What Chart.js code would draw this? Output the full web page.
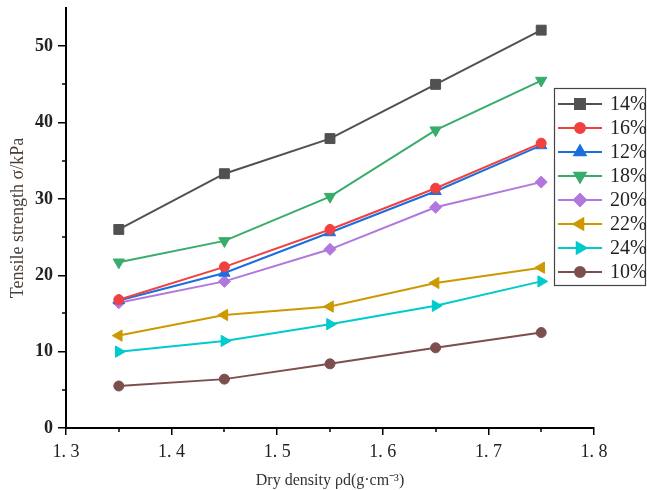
<!DOCTYPE html>
<html>
<head>
<meta charset="utf-8">
<script src="https://cdn.jsdelivr.net/npm/chart.js@4.4.1/dist/chart.umd.min.js"></script>
<style>
  html, body { margin: 0; padding: 0; background: #fff; }
  #wrap { width: 647px; height: 490px; }
</style>
</head>
<body>
<div id="wrap"><canvas id="chart"></canvas></div>
<script>
// dry density values (x)
const densities = [1.35, 1.45, 1.55, 1.65, 1.75];
const xTicks = [1.3, 1.4, 1.5, 1.6, 1.7, 1.8];
const yTicks = [0, 10, 20, 30, 40, 50];

// tensile strength per water content
const s14 = [26.0, 33.3, 37.9, 45.0, 52.1];
const s16 = [16.8, 21.1, 26.0, 31.4, 37.3];
const s12 = [16.7, 20.3, 25.6, 31.0, 37.0];
const s18 = [21.7, 24.5, 30.3, 39.0, 45.5];
const s20 = [16.4, 19.2, 23.4, 28.9, 32.2];
const s22 = [12.1, 14.8, 15.9, 19.0, 21.0];
const s24 = [10.0, 11.4, 13.6, 16.0, 19.2];
const s10 = [5.5, 6.4, 8.4, 10.5, 12.5];

const series = [
  { label: "14%", values: s14, color: "#515151", style: "rect", rot: 0 },
  { label: "16%", values: s16, color: "#f14040", style: "circle", rot: 0 },
  { label: "12%", values: s12, color: "#1a6fdf", style: "triangle", rot: 0 },
  { label: "18%", values: s18, color: "#37ad6b", style: "triangle", rot: 180 },
  { label: "20%", values: s20, color: "#b177de", style: "rectRot", rot: 0 },
  { label: "22%", values: s22, color: "#cc9900", style: "triangle", rot: -90 },
  { label: "24%", values: s24, color: "#00cbcc", style: "triangle", rot: 90 },
  { label: "10%", values: s10, color: "#7d4e4e", style: "circle", rot: 0 }
];

const serif = "'Liberation Serif', 'Times New Roman', serif";

function markerSize(style) {
  if (style === "rect") return 7;
  if (style === "circle") return 5;
  if (style === "rectRot") return 6;
  return 6.5;
}

const datasets = series.map((s) => ({
  label: s.label,
  data: s.values.map((v, i) => ({ x: densities[i], y: v })),
  borderColor: s.color,
  backgroundColor: s.color,
  borderWidth: 2,
  pointStyle: s.style,
  rotation: s.rot,
  pointRadius: markerSize(s.style),
  pointBorderWidth: 1,
  tension: 0
}));

// short outward minor ticks between the labelled ones
const minorTicks = {
  id: "minorTicks",
  afterDraw(chart) {
    const ctx = chart.ctx;
    const xs = chart.scales.x, ys = chart.scales.y;
    ctx.save();
    ctx.strokeStyle = "#000";
    ctx.lineWidth = 1.5;
    for (let v = 5; v < 55; v += 10) {
      const p = Math.round(ys.getPixelForValue(v));
      ctx.beginPath();
      ctx.moveTo(ys.right - 4, p);
      ctx.lineTo(ys.right, p);
      ctx.stroke();
    }
    densities.forEach((v) => {
      const p = Math.round(xs.getPixelForValue(v));
      ctx.beginPath();
      ctx.moveTo(p, xs.top);
      ctx.lineTo(p, xs.top + 4);
      ctx.stroke();
    });
    ctx.restore();
  }
};

// boxed legend drawn over the right side of the plot
const boxLegend = {
  id: "boxLegend",
  afterDraw(chart) {
    const ctx = chart.ctx;
    const x0 = 554, y0 = 88, w = 91, h = 197, row = 24;
    ctx.save();
    ctx.fillStyle = "#fff";
    ctx.fillRect(x0, y0, w, h);
    ctx.strokeStyle = "#444";
    ctx.lineWidth = 1.2;
    ctx.strokeRect(x0 + 0.5, y0 + 0.5, w, h);
    chart.data.datasets.forEach((ds, i) => {
      const y = y0 + 16 + i * row;
      ctx.strokeStyle = ds.borderColor;
      ctx.fillStyle = ds.backgroundColor;
      ctx.lineWidth = 2;
      ctx.beginPath();
      ctx.moveTo(x0 + 4, y);
      ctx.lineTo(x0 + 48, y);
      ctx.stroke();
      Chart.helpers.drawPoint(ctx, {
        pointStyle: ds.pointStyle,
        rotation: ds.rotation,
        radius: ds.pointRadius,
        borderWidth: 1
      }, x0 + 26, y);
      ctx.fillStyle = "#222";
      ctx.font = "20px " + serif;
      ctx.textAlign = "left";
      ctx.textBaseline = "middle";
      ctx.fillText(ds.label, x0 + 56, y + 1);
    });
    ctx.restore();
  }
};

new Chart(document.getElementById("chart"), {
  type: "line",
  data: { datasets: datasets },
  options: {
    responsive: true,
    maintainAspectRatio: false,
    animation: false,
    layout: { padding: { top: 8, right: 53, left: 0, bottom: 0 } },
    plugins: { legend: { display: false }, tooltip: { enabled: false } },
    scales: {
      x: {
        type: "linear",
        min: 1.3,
        max: 1.8,
        afterBuildTicks: (scale) => { scale.ticks = xTicks.map((v) => ({ value: v })); },
        afterFit: (scale) => { scale.height = 62; },
        border: { display: true, color: "#000", width: 2 },
        grid: { drawOnChartArea: false, drawTicks: true, tickLength: 7, color: "#000", lineWidth: 1.5 },
        ticks: {
          color: "#222",
          font: { family: serif, size: 18 },
          padding: 6,
          callback: (v) => Number(v).toFixed(1).replace(".", ". ")
        },
        title: {
          display: true,
          text: "Dry density ρd(g·cm⁻³)",
          color: "#333",
          font: { family: serif, size: 16 },
          padding: { top: 2, bottom: 0 }
        }
      },
      y: {
        min: 0,
        max: 55,
        afterBuildTicks: (scale) => { scale.ticks = yTicks.map((v) => ({ value: v })); },
        afterFit: (scale) => { scale.width = 66; scale.paddingTop = 0; },
        border: { display: true, color: "#000", width: 2 },
        grid: { drawOnChartArea: false, drawTicks: true, tickLength: 8, color: "#000", lineWidth: 1.5 },
        ticks: {
          color: "#222",
          font: { family: serif, size: 18, weight: "bold" },
          padding: 5
        },
        title: {
          display: true,
          text: "Tensile strength σ/kPa",
          color: "#4a3f38",
          font: { family: serif, size: 18 },
          padding: { top: 7, bottom: 0 }
        }
      }
    }
  },
  plugins: [minorTicks, boxLegend]
});
</script>
</body>
</html>
